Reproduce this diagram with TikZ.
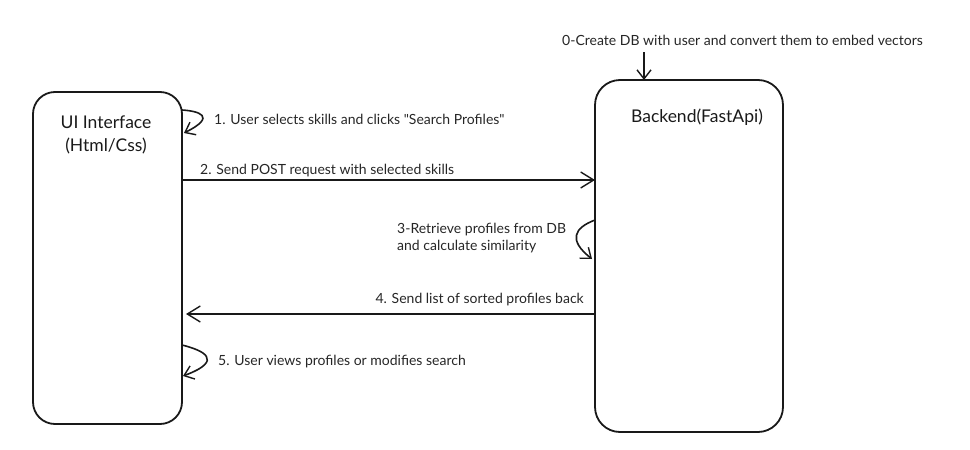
\documentclass[tikz,border=0pt]{standalone}
\usepackage{fontspec}
\setmainfont{Lato}[Ligatures=TeXOff]
\usetikzlibrary{arrows.meta}
\begin{document}
\begin{tikzpicture}[x=1pt,y=-1pt,
  box/.style={draw=black!90, line width=1.8pt, rounded corners=22pt},
  msg/.style={draw=black!90, line width=1.6pt, -{Straight Barb[length=13pt,width=16pt,line width=1.4pt]}},
  loopmsg/.style={draw=black!90, line width=1.6pt, -{Straight Barb[length=9pt,width=14pt,line width=1.4pt]}},
  lbl/.style={font=\fontsize{14}{17}\selectfont, text=black!85, inner sep=0pt},
  title/.style={font=\fontsize{17.5}{23}\selectfont, text=black!90, align=center, inner sep=0pt}]
\useasboundingbox (0,0) rectangle (970,450);
\draw[box] (33,92) rectangle (182,424);
\draw[box, rounded corners=25pt] (595,80) rectangle (783,432);
\node[title] (ui) at (106,135) {UI Interface\\(Html/Css)};
\node[title] (be) at (697,117) {Backend(FastApi)};
\coordinate (u1a) at (182,110); \coordinate (u1b) at (184,133);
\draw[loopmsg] (u1a) .. controls (198,111) and (218,116) .. (u1b);
\node[lbl, anchor=west] (l1) at (214,119) {1. User selects skills and clicks "Search Profiles"};
\coordinate (s2) at (182,180); \coordinate (e2) at (595,180);
\draw[msg] (s2) -- (e2);
\node[lbl, anchor=west] (l2) at (200,171) {2. Send POST request with selected skills};
\coordinate (s3) at (595,220); \coordinate (e3) at (592,259);
\draw[loopmsg] (s3) .. controls (574,228) and (568,240) .. (e3);
\node[lbl, anchor=west, align=left] (l3) at (397,238) {3-Retrieve profiles from DB\\and calculate similarity};
\coordinate (s4) at (595,314); \coordinate (e4) at (186,314);
\draw[msg] (s4) -- (e4);
\node[lbl, anchor=east] (l4) at (584,300) {4. Send list of sorted profiles back};
\coordinate (s5) at (182,345); \coordinate (e5) at (183,376);
\draw[loopmsg] (s5) .. controls (202,350) and (226,360) .. (e5);
\node[lbl, anchor=west] (l5) at (218,362) {5. User views profiles or modifies search};
\node[lbl, anchor=west] (l0) at (562,40) {0-Create DB with user and convert them to embed vectors};
\coordinate (s0) at (644,52); \coordinate (e0) at (644,80);
\draw[loopmsg] (s0) -- (e0);
\end{tikzpicture}
\end{document}
